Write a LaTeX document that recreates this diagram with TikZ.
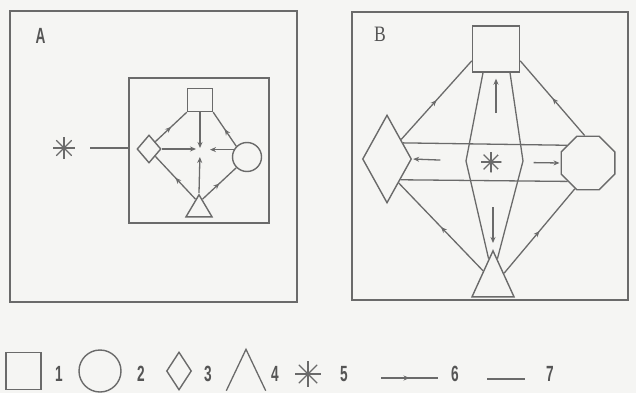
\documentclass[tikz,border=0pt]{standalone}
\usepackage{fontspec}
\setmainfont{Liberation Sans}
\newfontfamily\narrowfont[FakeStretch=0.62]{Liberation Sans}
\newfontfamily\narrowserif[FakeStretch=0.8]{Liberation Serif}
\usetikzlibrary{shapes.geometric,arrows.meta,decorations.markings,calc}
\definecolor{ink}{HTML}{6A6A6A}
\definecolor{paper}{HTML}{F5F5F3}
\tikzset{
  shp/.style={draw=ink,line width=1.4pt,inner sep=0pt},
  lnk/.style={draw=ink,line width=1.3pt},
  flow/.style={lnk,postaction={decorate},
    decoration={markings,mark=at position 0.5 with {\arrow{Stealth[length=6pt,width=5pt]}}}},
  arr/.style={lnk,-{Stealth[length=6pt,width=5pt]}},
  spokes/.style={circle,inner sep=0pt,minimum size=#1,
    path picture={\foreach \k in {0,45,...,315}
      \draw[ink,line width=1.3pt] (path picture bounding box.center) -- ++(\k:#1/2);}},
  tri/.style={shp,isosceles triangle,shape border rotate=90,isosceles triangle stretches,anchor=apex},
  lbl/.style={text=ink!80!black,font=\narrowfont\bfseries\fontsize{22}{22}\selectfont,inner sep=0pt},
}

\begin{document}
\begin{tikzpicture}[x=1pt,y=-1pt]
\useasboundingbox (0,0) rectangle (636,393);
\fill[paper] (0,0) rectangle (636,393);

% panel A
\node[shp,line width=1.6pt,minimum width=287pt,minimum height=291pt] (boxA) at (153.5,156.5) {};
\node[lbl] (labA) at (40.5,36) {A};
\node[shp,line width=1.6pt,minimum width=140pt,minimum height=145pt] (frmA) at (199,150.5) {};
\node[shp,minimum width=25pt,minimum height=23pt] (sqA) at (200,100) {};
\node[shp,diamond,minimum width=24pt,minimum height=28pt] (diaA) at (149,149) {};
\node[shp,circle,minimum size=29pt] (cirA) at (247,157) {};
\node[tri,minimum width=26pt,minimum height=22pt] (triA) at (199,193) {};
\node[spokes=22pt] (astA) at (64,148) {};
\coordinate (ctrA) at (200,152);

\draw[lnk,shorten <=15pt] (astA) -- (astA -| frmA.west);
\draw[flow] (diaA.north east) -- (sqA.south west);
\draw[flow] (cirA.135) -- (sqA.south east);
\draw[flow] ($(triA.apex)!0.25!(triA.left corner)$) -- (diaA.south east);
\draw[flow] ($(triA.apex)!0.25!(triA.right corner)$) -- (cirA.225);
\draw[arr,shorten >=4pt] (sqA.south) -- (ctrA);
\draw[arr,shorten >=5pt] (triA.apex) -- (ctrA);
\draw[arr,shorten >=4pt] (diaA.east) -- (diaA.east -| ctrA);
\draw[arr,shorten >=10pt] (cirA.151) -- (cirA.151 -| ctrA);

% panel B
\node[shp,line width=1.6pt,minimum width=276pt,minimum height=288pt] (boxB) at (490,156) {};
\node[lbl,font=\narrowserif\fontsize{22}{22}\selectfont] (labB) at (380,34) {B};
\node[shp,minimum width=47pt,minimum height=46pt] (sqB) at (496,49) {};
\node[shp,diamond,minimum width=49pt,minimum height=88pt] (diaB) at (387,159) {};
\node[shp,regular polygon,regular polygon sides=8,minimum size=58pt] (octB) at (588,163) {};
\node[tri,minimum width=42pt,minimum height=46pt] (triB) at (493,249) {};
\node[spokes=21pt] (astB) at (491,162) {};
\coordinate (bendL) at (466,161);
\coordinate (bendR) at (523,161);

\draw[flow] (diaB.54) -- (sqB.206);
\draw[flow] (octB.97) -- (sqB.334);
\draw[flow] ($(triB.apex)!0.45!(triB.left corner)$) -- (diaB.-64);
\draw[flow] ($(triB.apex)!0.5!(triB.right corner)$) -- (octB.243);
\draw[lnk] ([xshift=-13pt]sqB.south) -- (bendL) -- ($(triB.apex)!0.2!(triB.left corner)$);
\draw[lnk] ([xshift=14pt]sqB.south) -- (bendR) -- ($(triB.apex)!0.2!(triB.right corner)$);
\draw[lnk] (diaB.45) -- (octB.140);
\draw[lnk] (diaB.-57) -- (octB.222);
\draw[arr,shorten <=40pt,shorten >=1pt] (astB) -- (diaB.east);
\draw[arr,shorten <=32pt,shorten >=1pt] (astB) -- (octB.west);
\draw[arr,shorten <=49pt,shorten >=6pt] (astB -| sqB.south) -- (sqB.south);
\draw[arr,shorten <=45pt,shorten >=6pt] (astB -| triB.apex) -- (triB.apex);

% legend
\node[shp,minimum width=35pt,minimum height=37pt] (lg1) at (23.5,371) {};
\node[lbl] (n1) at (59,374) {1};
\node[shp,circle,minimum size=42pt] (lg2) at (100,371) {};
\node[lbl] (n2) at (141,374) {2};
\node[shp,diamond,minimum width=25pt,minimum height=38pt] (lg3) at (179,371) {};
\node[lbl] (n3) at (208,374) {3};
\node[inner sep=0pt,minimum width=39pt,minimum height=41pt] (lg4) at (246,370) {};
\draw[lnk] (lg4.south west) -- (lg4.north) -- (lg4.south east);
\node[lbl] (n4) at (275,374) {4};
\node[spokes=26pt] (lg5) at (308,374) {};
\node[lbl] (n5) at (344,374) {5};
\coordinate (lg6a) at (381,378);
\coordinate (lg6b) at (438,378);
\draw[flow] (lg6a) -- (lg6b);
\node[lbl] (n6) at (455,374) {6};
\coordinate (lg7a) at (487,379);
\coordinate (lg7b) at (525,379);
\draw[lnk] (lg7a) -- (lg7b);
\node[lbl] (n7) at (550,374) {7};
\end{tikzpicture}
\end{document}
